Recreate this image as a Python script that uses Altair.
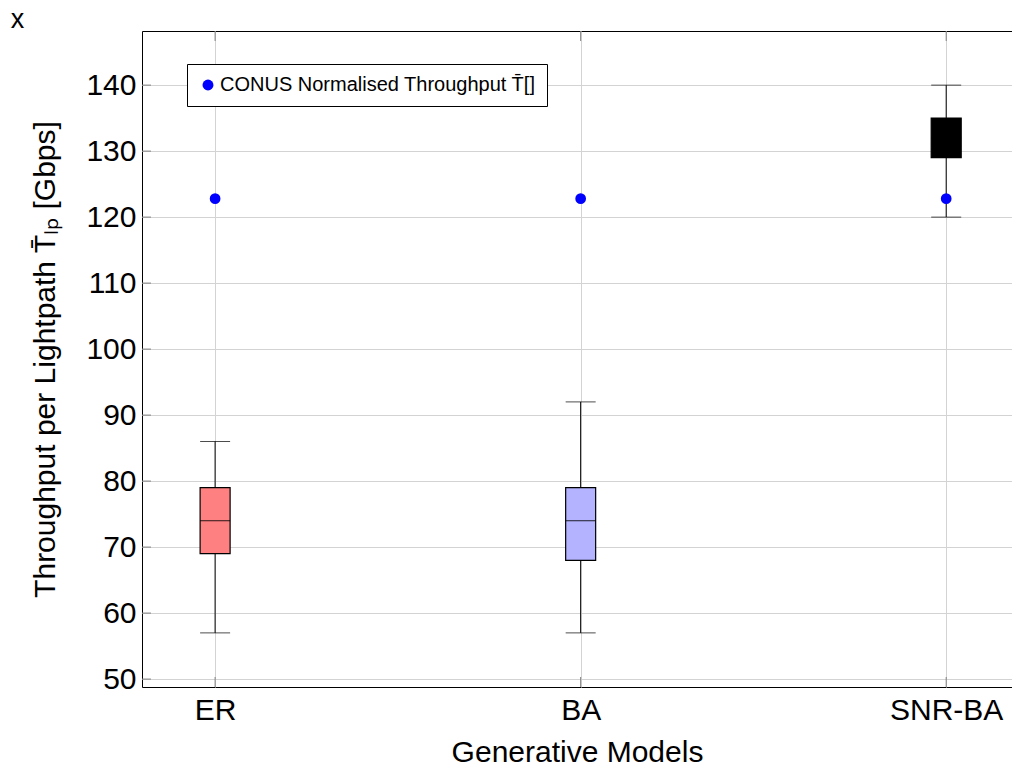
import altair as alt
import pandas as pd

# Box-plot statistics per generative model (Gbps)
models = ["ER", "BA", "SNR-BA"]
positions = [1, 2, 3]
whisker_low = [57, 57, 120]
q1 = [69, 68, 129]
median = [74, 74, 132]
q3 = [79, 79, 135]
whisker_high = [86, 92, 140]
box_colors = ["#ff8080", "#b3b3ff", "#000000"]

# Reference throughput of the CONUS topology
conus_value = [122.8, 122.8, 122.8]
conus_label = "CONUS Normalised Throughput T\u0304[]"

y_ticks = [50, 60, 70, 80, 90, 100, 110, 120, 130, 140]

FONT = "Liberation Sans"
W, H = 870, 656

boxes = pd.DataFrame({
    "model": models, "pos": positions, "low": whisker_low, "q1": q1,
    "median": median, "q3": q3, "high": whisker_high,
})
conus = pd.DataFrame({"pos": positions, "value": conus_value,
                      "series": [conus_label] * len(positions)})
yt = pd.DataFrame({"v": y_ticks})
xt = pd.DataFrame({"pos": positions})

label_expr = " : ".join(
    f"datum.value == {p} ? '{m}'" for p, m in zip(positions, models)
) + " : ''"

x_scale = alt.Scale(domain=[0.8, 3.18], nice=False, zero=False, padding=0)
y_scale = alt.Scale(domain=[48.8, 148.2], nice=False, zero=False, padding=0)

x_enc = alt.X(
    "pos:Q", scale=x_scale,
    axis=alt.Axis(values=positions, labelExpr=label_expr, grid=True, ticks=False,
                  domain=False, labelFontSize=30, labelPadding=8,
                  title="Generative Models", titleFontSize=30, titlePadding=12,
                  titleFontWeight="normal"),
)
y_axis = alt.Axis(values=y_ticks, grid=True, ticks=False, domain=False,
                  labelFontSize=30, labelPadding=6,
                  title="Throughput per Lightpath T\u0304\u2097\u209a [Gbps]",
                  titleFontSize=30, titlePadding=25, titleFontWeight="normal")

base = alt.Chart(boxes)

whiskers = base.mark_rule(color="black", strokeWidth=1).encode(
    x=x_enc,
    y=alt.Y("low:Q", scale=y_scale, axis=y_axis),
    y2="high:Q",
)
caps_low = base.mark_tick(orient="horizontal", size=30, thickness=1, color="black").encode(
    x="pos:Q", y="low:Q")
caps_high = base.mark_tick(orient="horizontal", size=30, thickness=1, color="black").encode(
    x="pos:Q", y="high:Q")
box = base.mark_bar(size=30, orient="vertical", stroke="black", strokeWidth=1.2).encode(
    x="pos:Q", y="q1:Q", y2="q3:Q",
    fill=alt.Fill("model:N", scale=alt.Scale(domain=models, range=box_colors), legend=None),
)
med = base.mark_tick(orient="horizontal", size=30, thickness=1.2, color="black").encode(
    x="pos:Q", y="median:Q")

points = alt.Chart(conus).mark_circle(size=115, opacity=1).encode(
    x="pos:Q", y="value:Q",
    color=alt.Color("series:N", scale=alt.Scale(range=["#0000ff"]),
                    legend=alt.Legend(title=None, orient="none", legendX=45, legendY=33,
                                      strokeColor="black", fillColor="white", padding=11,
                                      labelFontSize=20, labelFont=FONT, labelColor="black",
                                      labelLimit=0, symbolType="circle", symbolSize=120,
                                      labelOffset=2)),
)

# inward tick marks on the left, bottom and top edges
yticks = alt.Chart(yt).mark_rule(color="#808080", strokeWidth=1).encode(
    y="v:Q", x=alt.value(0), x2=alt.value(9))
xticks_bottom = alt.Chart(xt).mark_rule(color="#808080", strokeWidth=1).encode(
    x="pos:Q", y=alt.value(H), y2=alt.value(H - 10))
xticks_top = alt.Chart(xt).mark_rule(color="#808080", strokeWidth=1).encode(
    x="pos:Q", y=alt.value(0), y2=alt.value(10))

corner = alt.Chart(pd.DataFrame({"t": ["x"]})).mark_text(
    font=FONT, fontSize=27, align="center", baseline="alphabetic", color="black"
).encode(text="t:N", x=alt.value(-124.5), y=alt.value(-3))

chart = alt.layer(
    whiskers, caps_low, caps_high, box, med, points,
    yticks, xticks_bottom, xticks_top, corner,
).properties(
    width=W, height=H,
    autosize=alt.AutoSizeParams(type="none"),
    padding={"left": 142, "top": 31, "right": 0, "bottom": 82},
    background="white",
).configure_view(
    stroke="black", strokeWidth=1
).configure_axis(
    gridColor="#d3d3d3", gridWidth=1, labelColor="black", titleColor="black",
    labelFont=FONT, titleFont=FONT,
).configure_legend(
    labelFont=FONT
)

chart.save("out.html", embed_options={"renderer": "svg", "actions": False})
